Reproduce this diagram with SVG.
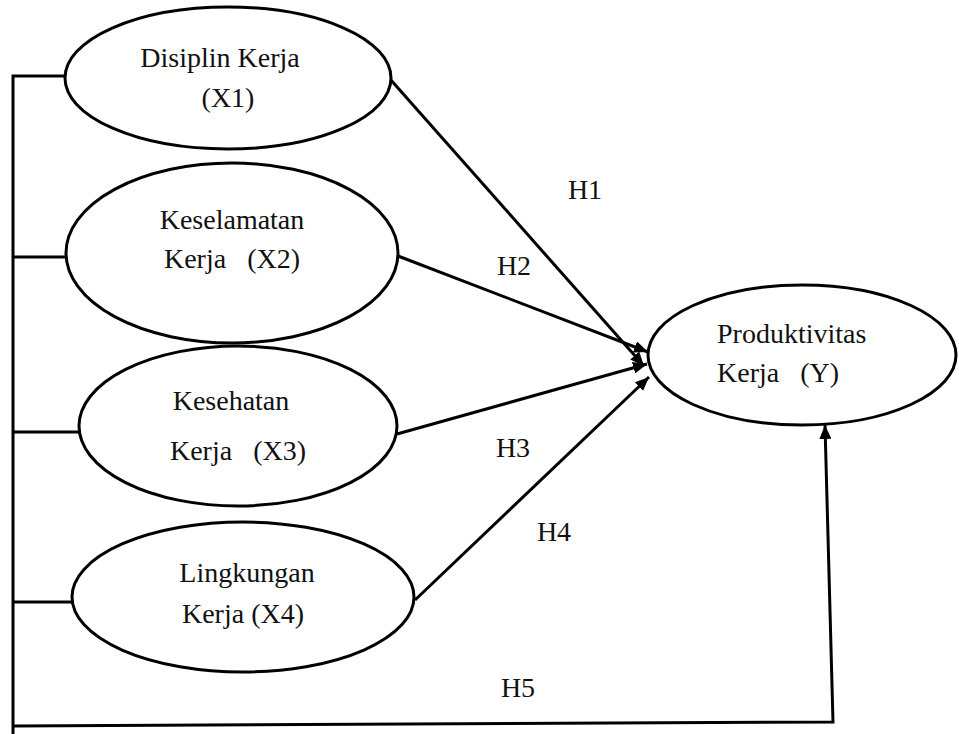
<svg xmlns="http://www.w3.org/2000/svg" width="959" height="734" viewBox="0 0 959 734">
<style>
.node ellipse{fill:#fff;stroke:#000;stroke-width:3}
text{font-family:"Liberation Serif","Times New Roman",serif;font-size:28px;fill:#111;white-space:pre}
.c{text-anchor:middle}
.conn line,.conn polyline{stroke:#000;stroke-width:3;fill:none}
</style>
<defs>
<marker id="arr" markerUnits="userSpaceOnUse" markerWidth="16" markerHeight="12" refX="14" refY="6" orient="auto">
<path d="M0,0 L14,6 L0,12 z" fill="#000"/>
</marker>
</defs>
<g class="conn" id="connectors">
<polyline points="65,76 13,76 13,734"/>
<line x1="13" y1="257" x2="66" y2="257"/>
<line x1="13" y1="432" x2="79" y2="432"/>
<line x1="13" y1="602" x2="72" y2="602"/>
<polyline points="13,726 833,722 825,425" marker-end="url(#arr)"/>
<line x1="390" y1="79" x2="644" y2="366" marker-end="url(#arr)"/>
<line x1="398" y1="256" x2="648" y2="352" marker-end="url(#arr)"/>
<line x1="397" y1="434" x2="647" y2="364" marker-end="url(#arr)"/>
<line x1="415" y1="600" x2="649" y2="377" marker-end="url(#arr)"/>
<text x="585" y="199" class="c">H1</text>
<text x="514" y="275" class="c">H2</text>
<text x="513" y="457" class="c">H3</text>
<text x="554" y="541" class="c">H4</text>
<text x="518" y="697" class="c">H5</text>
</g>
<g class="node" id="x1">
<ellipse cx="228" cy="78" rx="163" ry="71"/>
<text x="220" y="67" class="c">Disiplin Kerja</text>
<text x="228" y="107" class="c">(X1)</text>
</g>
<g class="node" id="x2">
<ellipse cx="232" cy="253" rx="166" ry="90"/>
<text x="232" y="229" class="c">Keselamatan</text>
<text x="232" y="268" class="c">Kerja   (X2)</text>
</g>
<g class="node" id="x3">
<ellipse cx="238" cy="426" rx="159" ry="80"/>
<text x="231" y="410" class="c">Kesehatan</text>
<text x="238" y="460" class="c">Kerja   (X3)</text>
</g>
<g class="node" id="x4">
<ellipse cx="243" cy="597" rx="171" ry="75"/>
<text x="247" y="582" class="c">Lingkungan</text>
<text x="243" y="623" class="c">Kerja (X4)</text>
</g>
<g class="node" id="y">
<ellipse cx="802" cy="355" rx="154" ry="70"/>
<text x="717" y="343">Produktivitas</text>
<text x="717" y="382">Kerja   (Y)</text>
</g>
</svg>
